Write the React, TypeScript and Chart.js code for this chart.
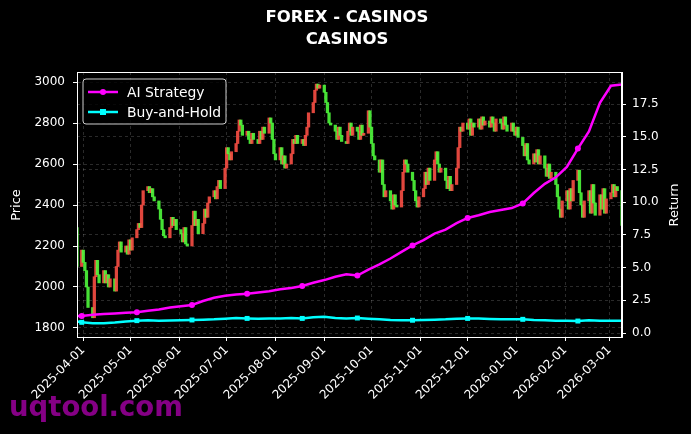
import React, { useEffect, useRef } from 'react';
import { Chart, registerables } from 'chart.js';

Chart.register(...registerables);

// ---------- data ----------
const firstDate = '2025-03-28';
const lastDate = '2026-03-09';
const monthTicks = [
  '2025-04-01', '2025-05-01', '2025-06-01', '2025-07-01', '2025-08-01', '2025-09-01',
  '2025-10-01', '2025-11-01', '2025-12-01', '2026-01-01', '2026-02-01', '2026-03-01',
];
const priceTicks = [1800, 2000, 2200, 2400, 2600, 2800, 3000];
const returnTicks = [0, 2.5, 5, 7.5, 10, 12.5, 15, 17.5];

const firstOpen = 2290;
// daily closes (weekdays), grouped by week
const closes = [
  2100,
  2180, 2120, 2080, 2000, 1900,
  1850, 2050, 2130, 2060, 2020,
  2080, 2020, 2060, 2000, 2040,
  1980, 2100, 2180, 2220, 2170,
  2200, 2160, 2230, 2180, 2240,
  2280, 2310, 2290, 2400, 2470,
  2490, 2460, 2480, 2440, 2420,
  2380, 2330, 2280, 2250, 2240,
  2290, 2340, 2300, 2330, 2280,
  2260, 2220, 2290, 2210, 2200,
  2300, 2370, 2300, 2330, 2260,
  2310, 2380, 2340, 2410, 2440,
  2470, 2430, 2490, 2520, 2480,
  2580, 2680, 2650, 2620, 2660,
  2700, 2760, 2815, 2790, 2740,
  2760, 2720, 2700, 2750, 2720,
  2700, 2760, 2720, 2780, 2750,
  2825, 2800, 2720, 2650, 2620,
  2680, 2600, 2640, 2580, 2600,
  2650, 2720, 2700, 2740, 2700,
  2720, 2690, 2740, 2780, 2850,
  2900, 2960, 2990, 2970, 2985,
  2950, 2900, 2850, 2800, 2790,
  2760, 2720, 2780, 2740, 2710,
  2700, 2760, 2800, 2740, 2780,
  2760, 2720, 2790, 2740, 2750,
  2860, 2780, 2700, 2640, 2620,
  2560, 2620, 2500, 2440, 2470,
  2420, 2380, 2450, 2400, 2390,
  2470, 2560, 2620, 2600, 2560,
  2520, 2470, 2420, 2390, 2440,
  2480, 2560, 2500, 2580, 2520,
  2620, 2660, 2600, 2560, 2580,
  2520, 2480, 2540, 2470, 2500,
  2580, 2680, 2780, 2760, 2800,
  2770, 2820, 2740, 2800, 2780,
  2820, 2770, 2830, 2790, 2810,
  2780, 2830, 2800, 2760, 2820,
  2800, 2770, 2830, 2790, 2760,
  2800, 2760, 2740, 2780, 2730,
  2690, 2640, 2700, 2620, 2600,
  2650, 2610, 2670, 2600, 2640,
  2580, 2540, 2600, 2530, 2560,
  2500, 2440, 2380, 2340, 2420,
  2470, 2380, 2480, 2420, 2520,
  2570, 2460, 2400, 2340, 2420,
  2470, 2360, 2500, 2410, 2350,
  2450, 2380, 2480, 2360, 2430,
  2460, 2500, 2440, 2490, 2470,
  2300,
];

// weekly returns (first day, then each Monday)
const aiStrategy = [
  1.3, 1.3, 1.4, 1.45, 1.5, 1.55, 1.6, 1.7, 1.8, 1.95,
  2.05, 2.15, 2.45, 2.7, 2.85, 2.95, 3.0, 3.1, 3.2, 3.35,
  3.45, 3.6, 3.85, 4.05, 4.3, 4.5, 4.4, 4.85, 5.25, 5.7,
  6.2, 6.7, 7.1, 7.6, 7.9, 8.4, 8.8, 9.0, 9.25, 9.4,
  9.55, 9.9, 10.7, 11.4, 11.9, 12.7, 14.1, 15.4, 17.6, 18.9,
  19.0,
];
const buyAndHold = [
  0.88, 0.82, 0.76, 0.75, 0.8, 0.88, 0.95, 0.98, 0.95, 0.97,
  0.98, 1.0, 1.02, 1.05, 1.1, 1.15, 1.12, 1.1, 1.12, 1.12,
  1.15, 1.12, 1.2, 1.25, 1.15, 1.12, 1.15, 1.1, 1.05, 1.0,
  0.98, 0.98, 1.0, 1.02, 1.05, 1.1, 1.12, 1.12, 1.08, 1.05,
  1.05, 1.05, 1.0, 0.98, 0.95, 0.95, 0.92, 0.98, 0.95, 0.95,
  0.95,
];

// ---------- helpers ----------
const BASE = Date.UTC(2025, 3, 1);
const toDay = (s: string) => {
  const [y, m, d] = s.split('-').map(Number);
  return Math.round((Date.UTC(y, m - 1, d) - BASE) / 86400000);
};

function tradingDays(): { day: number; dow: number }[] {
  const out: { day: number; dow: number }[] = [];
  const a = toDay(firstDate);
  const b = toDay(lastDate);
  for (let d = a; d <= b; d++) {
    const dow = new Date(BASE + d * 86400000).getUTCDay();
    if (dow !== 0 && dow !== 6) out.push({ day: d, dow });
  }
  return out;
}

export default function App() {
  const ref = useRef<HTMLCanvasElement | null>(null);

  useEffect(() => {
    document.body.style.margin = '0';
    document.body.style.background = '#000';
    const canvas = ref.current!;
    const days = tradingDays();
    const candleData: any[] = [];
    const candleColors: string[] = [];
    let prev = firstOpen;
    days.forEach((d, i) => {
      const c = closes[i];
      if (c === undefined) return;
      candleData.push({ x: d.day, y: [prev, c] });
      candleColors.push(c >= prev ? 'rgba(255,80,70,0.88)' : 'rgba(80,255,60,0.88)');
      prev = c;
    });
    const weekDays = days.filter((d, i) => i === 0 || d.dow === 1).map((d) => d.day);
    const aiData = aiStrategy.map((v, i) => ({ x: weekDays[i], y: v }));
    const bhData = buyAndHold.map((v, i) => ({ x: weekDays[i], y: v }));
    const markerRadius = aiStrategy.map((_, i) => (i % 5 === 1 ? 3 : 0));

    const monthDays = monthTicks.map(toDay);
    const font = 'DejaVu Sans';
    const gridColor = 'rgba(255,255,255,0.28)';

    const overlay = {
      id: 'overlay',
      beforeDraw(chart: any) {
        const ctx = chart.ctx;
        ctx.save();
        ctx.fillStyle = '#000';
        ctx.fillRect(0, 0, chart.width, chart.height);
        ctx.restore();
      },
      afterDraw(chart: any) {
        const ctx = chart.ctx;
        const a = chart.chartArea;
        ctx.save();
        // frame
        ctx.strokeStyle = '#fff';
        ctx.lineWidth = 1;
        ctx.setLineDash([]);
        ctx.strokeRect(a.left + 0.5, a.top + 0.5, a.right - a.left - 1, a.bottom - a.top);
        // title
        ctx.fillStyle = '#fff';
        ctx.textAlign = 'center';
        ctx.textBaseline = 'middle';
        ctx.font = `bold 16.5px "${font}"`;
        ctx.fillText('FOREX - CASINOS', 347, 18);
        ctx.fillText('CASINOS', 347, 40);
        // axis titles
        ctx.font = `13px "${font}"`;
        ctx.save();
        ctx.translate(17, 205);
        ctx.rotate(-Math.PI / 2);
        ctx.fillText('Price', 0, 0);
        ctx.restore();
        ctx.save();
        ctx.translate(675, 205);
        ctx.rotate(-Math.PI / 2);
        ctx.fillText('Return', 0, 0);
        ctx.restore();
        // legend
        const lx = 83, ly = 79, lw = 143, lh = 45, r = 3;
        ctx.beginPath();
        ctx.moveTo(lx + r, ly);
        ctx.arcTo(lx + lw, ly, lx + lw, ly + lh, r);
        ctx.arcTo(lx + lw, ly + lh, lx, ly + lh, r);
        ctx.arcTo(lx, ly + lh, lx, ly, r);
        ctx.arcTo(lx, ly, lx + lw, ly, r);
        ctx.closePath();
        ctx.fillStyle = 'rgba(0,0,0,0.8)';
        ctx.fill();
        ctx.strokeStyle = '#cccccc';
        ctx.lineWidth = 1;
        ctx.stroke();
        const items = [
          { label: 'AI Strategy', color: '#ff00ff', y: 92, rect: false },
          { label: 'Buy-and-Hold', color: '#00ffff', y: 112, rect: true },
        ];
        items.forEach((it) => {
          ctx.strokeStyle = it.color;
          ctx.lineWidth = 2.5;
          ctx.beginPath();
          ctx.moveTo(88, it.y);
          ctx.lineTo(118, it.y);
          ctx.stroke();
          ctx.fillStyle = it.color;
          if (it.rect) ctx.fillRect(100, it.y - 3, 6, 6);
          else {
            ctx.beginPath();
            ctx.arc(103, it.y, 3, 0, Math.PI * 2);
            ctx.fill();
          }
          ctx.fillStyle = '#fff';
          ctx.textAlign = 'left';
          ctx.font = `13.9px "${font}"`;
          ctx.fillText(it.label, 127, it.y + 1);
        });
        // watermark
        ctx.font = `bold 27.5px "${font}"`;
        ctx.fillStyle = 'rgba(140,0,140,0.95)';
        ctx.textAlign = 'left';
        ctx.textBaseline = 'alphabetic';
        ctx.fillText('uqtool.com', 9, 416);
        ctx.restore();
      },
    };

    const tickFont = { family: font, size: 12 };

    const chart = new Chart(canvas, {
      type: 'bar',
      data: {
        datasets: [
          {
            type: 'line',
            label: 'AI Strategy',
            data: aiData,
            yAxisID: 'y1',
            borderColor: '#ff00ff',
            backgroundColor: '#ff00ff',
            borderWidth: 2.5,
            pointRadius: markerRadius,
            pointStyle: 'circle',
            pointBorderWidth: 0,
            tension: 0,
            order: 0,
          } as any,
          {
            type: 'line',
            label: 'Buy-and-Hold',
            data: bhData,
            yAxisID: 'y1',
            borderColor: '#00ffff',
            backgroundColor: '#00ffff',
            borderWidth: 2.5,
            pointRadius: markerRadius.map((v) => (v ? 3.5 : 0)),
            pointStyle: 'rect',
            pointBorderWidth: 0,
            tension: 0,
            order: 0,
          } as any,
          {
            type: 'bar',
            label: 'Price',
            data: candleData,
            yAxisID: 'y',
            backgroundColor: candleColors,
            borderWidth: 0,
            barThickness: 2.6,
            order: 1,
          } as any,
        ],
      },
      options: {
        responsive: false,
        animation: false,
        layout: { padding: { top: 72, left: 0, right: 0, bottom: 0 } },
        plugins: {
          legend: { display: false },
          title: { display: false },
          tooltip: { enabled: false },
        },
        scales: {
          x: {
            type: 'linear',
            offset: false,
            min: toDay(firstDate),
            max: toDay(lastDate),
            afterBuildTicks: (s: any) => {
              s.ticks = monthDays.map((v) => ({ value: v }));
            },
            afterFit: (s: any) => {
              s.height = 97;
            },
            ticks: {
              color: '#fff',
              font: tickFont,
              maxRotation: 45,
              minRotation: 45,
              autoSkip: false,
              padding: 2,
              callback: (_v: any, i: number) => monthTicks[i],
            },
            grid: {
              offset: false,
              color: gridColor,
              lineWidth: 0.6,
              tickColor: '#fff',
              tickLength: 4,
              tickWidth: 1,
            },
            border: { color: '#fff', width: 1, dash: [3, 3] },
          } as any,
          y: {
            type: 'linear',
            position: 'left',
            min: 1756,
            max: 3049,
            afterBuildTicks: (s: any) => {
              s.ticks = priceTicks.map((v) => ({ value: v }));
            },
            afterFit: (s: any) => {
              s.width = 77;
            },
            ticks: {
              color: '#fff',
              font: tickFont,
              padding: 8,
              callback: (v: any) => String(v),
            },
            grid: {
              color: gridColor,
              lineWidth: 0.6,
              tickColor: '#fff',
              tickLength: 4,
              tickWidth: 1,
            },
            border: { color: '#fff', width: 1, dash: [3, 3] },
          } as any,
          y1: {
            type: 'linear',
            position: 'right',
            min: -0.3,
            max: 19.95,
            afterBuildTicks: (s: any) => {
              s.ticks = returnTicks.map((v) => ({ value: v }));
            },
            afterFit: (s: any) => {
              s.width = 69;
            },
            ticks: {
              color: '#fff',
              font: tickFont,
              padding: 6,
              callback: (v: any) => Number(v).toFixed(1),
            },
            grid: {
              color: gridColor,
              lineWidth: 0.6,
              tickColor: '#fff',
              tickLength: 4,
              tickWidth: 1,
            },
            border: { color: '#fff', width: 1, dash: [3, 3] },
          } as any,
        },
      },
      plugins: [overlay],
    });

    return () => chart.destroy();
  }, []);

  return (
    <div style={{ width: 691, height: 434, background: '#000' }}>
      <canvas ref={ref} width={691} height={434} style={{ display: 'block' }} />
    </div>
  );
}
